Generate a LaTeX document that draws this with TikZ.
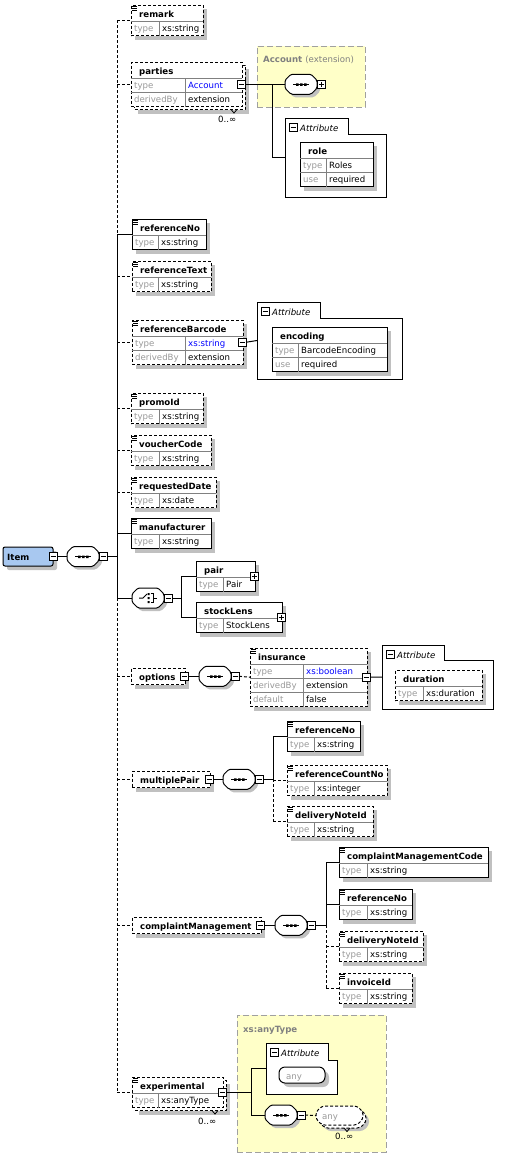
\documentclass[tikz,border=0pt]{standalone}
\usepackage{fontspec}
\setmainfont{DejaVu Sans}
\definecolor{shd}{HTML}{C0C0C0}
\definecolor{lab}{HTML}{999999}
\definecolor{valblue}{HTML}{0000FF}
\definecolor{yel}{HTML}{FFFFC8}
\definecolor{ybord}{HTML}{A0A0A0}
\definecolor{itemblue}{HTML}{A8C8F0}
\definecolor{divc}{HTML}{808080}
\newcommand\fs{\fontsize{8.6}{10}\selectfont}
\newif\ifmulti
\tikzset{
 dsh/.style={dash pattern=on 3pt off 2pt},
 ln/.style={line width=1pt},
 elnode/.style={draw, fill=white, inner sep=0, outer sep=0, line width=1pt},
 nm/.style={font=\fs\bfseries, inner sep=0, anchor=base west},
 lb/.style={font=\fs, text=lab, inner sep=0, anchor=base west},
 vl/.style={font=\fs, inner sep=0, anchor=base west},
 it/.style={font=\fs\itshape, inner sep=0, anchor=base west},
 occ/.style={font=\fs, inner sep=0, anchor=base west},
 signnode/.style={draw, fill=white, minimum size=8pt, inner sep=0, outer sep=0, line width=0.8pt},
 divl/.style={draw=divc, line width=0.8pt},
 yelbox/.style={draw=ybord, fill=yel, line width=1pt, dash pattern=on 6pt off 3pt, inner sep=0, outer sep=0, anchor=north west},
}
\newcommand\signbox[4]{%
 \node[signnode] (#1) at (#2,#3) {};
 \draw[line width=0.9pt] ([xshift=-2.5pt]#1.center) -- ([xshift=2.5pt]#1.center);
 \ifnum#4=1 \draw[line width=0.9pt] ([yshift=-2.5pt]#1.center) -- ([yshift=2.5pt]#1.center);\fi
}
\newcommand\compo[5]{%
 \begin{scope}[shift={(#2,#3)}]
  \fill[shd, rounded corners=1.5pt] (9,3) -- (29,3) -- (35,9) -- (35,17) -- (29,23) -- (9,23) -- (3,17) -- (3,9) -- cycle;
  \draw[ln, fill=white, rounded corners=1.5pt] (6,0) -- (26,0) -- (32,6) -- (32,14) -- (26,20) -- (6,20) -- (0,14) -- (0,6) -- cycle;
  \node[inner sep=0, outer sep=0, minimum width=32pt, minimum height=20pt] (#1) at (16,10) {};
  \ifnum#4=0
   \draw[ln] (8,10) -- (24,10);
   \fill (11,9) rectangle (13.5,11.5) (15,9) rectangle (17.5,11.5) (19,9) rectangle (21.5,11.5);
  \else
   \draw[ln] (7,10) -- (11,10) -- (15,6);
   \fill (15.5,5) rectangle (17.5,7) (15.5,9) rectangle (17.5,11) (15.5,13) rectangle (17.5,15);
   \draw[line width=0.9pt] (18.5,5.5) -- (21,5.5) -- (21,14.5) -- (18.5,14.5) (21,10) -- (25,10);
  \fi
 \end{scope}
 \signbox{#1-m}{#2+36}{#3+10}{#5}%
}
\newcommand\attrbox[7]{%
 \draw[ln, fill=white] (#2,#3) -- (#4,#3) -- (#4,#5) -- (#6,#5) -- (#6,#7) -- (#2,#7) -- cycle;
 \coordinate (#1) at (#2,{(#3+#7)/2});
 \signbox{#1-m}{#2+8}{#3+9}{0}%
 \node[it] (#1-t) at (#2+15,#3+13) {Attribute};
}
\newcommand\elbox[9]{%
 \pgfmathsetmacro\elh{16.5+14*#6}%
 \pgfmathsetmacro\elw{#4-#2}%
 \ifmulti
  \fill[shd] (#2+7,#3+7) rectangle (#4+7,#3+7+\elh);
  \draw[ln,dsh,fill=white] (#2+3,#3+3) rectangle (#4+3,#3+3+\elh);
  \draw[line width=0.8pt] (#4-11,#3+3+\elh) -- (#4-8,#3+6.5+\elh) -- (#4-5,#3+3+\elh);
 \else
  \fill[shd] (#2+4,#3+4) rectangle (#4+4,#3+4+\elh);
 \fi
 \node[elnode,#9,minimum width=\elw pt,minimum height=\elh pt,anchor=north west] (#1) at (#2,#3) {};
 \node[nm] (#1-n) at (#2+8,#3+12.5) {#7};
 \ifnum#6>0
  \foreach[count=\i] \k/\v in {#8}{%
   \pgfmathsetmacro\ry{#3+16.5+14*(\i-1)}%
   \draw[divl] (#2,\ry) -- (#4,\ry);
   \node[lb] (#1-k\i) at (#2+3,\ry+10) {\k};
   \node[vl] (#1-v\i) at (#5+3,\ry+10) {\v};
  }%
  \draw[divl] (#5,#3+16.5) -- (#5,#3+\elh);
 \fi
}
\newcommand\elicon[2]{\draw[line width=0.7pt] (#1+1,#2+1.5) -- +(5,0) (#1+1,#2+3.5) -- +(5,0) (#1+1,#2+5.5) -- +(5,0);}
\newcommand\bl[1]{\textcolor{valblue}{#1}}
\begin{document}
\begin{tikzpicture}[x=1pt,y=-1pt]
\useasboundingbox (0,0) rectangle (506,1168);
\fill[white] (0,0) rectangle (506,1168);
% yellow backgrounds
\node[yelbox, minimum width=108pt, minimum height=61pt] (accbox) at (257,46) {};
\node[font=\fs\bfseries, text=divc, inner sep=0, anchor=base west] (acclab) at (263,62) {Account \textmd{(extension)}};
\node[yelbox, minimum width=149pt, minimum height=137pt] (anybox) at (237,1015) {};
\node[font=\fs\bfseries, text=divc, inner sep=0, anchor=base west] (anylab) at (243,1032) {xs:anyType};
% root
\fill[shd, rounded corners=2pt] (7,551) rectangle (57,570);
\node[draw, fill=itemblue, rounded corners=2pt, line width=1pt, minimum width=50pt, minimum height=19pt, inner sep=0, outer sep=0, anchor=north west] (item) at (3,547) {};
\node[nm] (item-n) at (7,560) {Item};
\signbox{item-m}{53}{556.5}{0}
\compo{seq0}{67}{546.5}{0}{0}
% children
\elbox{remark}{131}{5}{203}{159}{1}{remark}{type/xs:string}{dsh}\elicon{131}{5}
\multitrue
\elbox{parties}{131}{62}{242}{185}{2}{parties}{type/\bl{Account},derivedBy/extension}{dsh}
\multifalse
\signbox{parties-m}{241}{84.25}{0}
\node[occ] (parties-o) at (218,122) {0..∞};
\compo{accseq}{285}{74.25}{0}{1}
\attrbox{attr1}{285}{118}{348}{134}{386}{197}
\elbox{role}{300}{142}{373}{326}{2}{role}{type/Roles,use/required}{}
\elbox{referenceNo}{132}{219}{206}{158}{1}{referenceNo}{type/xs:string}{}\elicon{132}{219}
\elbox{referenceText}{132}{261}{211}{158}{1}{referenceText}{type/xs:string}{dsh}\elicon{132}{261}
\elbox{referenceBarcode}{132}{320}{243}{185}{2}{referenceBarcode}{type/\bl{xs:string},derivedBy/extension}{dsh}\elicon{132}{320}
\signbox{referenceBarcode-m}{242}{342.25}{0}
\attrbox{attr2}{257}{302}{320}{318}{402}{379}
\elbox{encoding}{272}{327}{387}{298}{2}{encoding}{type/BarcodeEncoding,use/required}{}
\elbox{promoId}{131}{393}{203}{159}{1}{promoId}{type/xs:string}{dsh}\elicon{131}{393}
\elbox{voucherCode}{131}{435}{211}{159}{1}{voucherCode}{type/xs:string}{dsh}\elicon{131}{435}
\elbox{requestedDate}{131}{477}{216}{159}{1}{requestedDate}{type/xs:date}{dsh}\elicon{131}{477}
\elbox{manufacturer}{131}{518}{211}{159}{1}{manufacturer}{type/xs:string}{}\elicon{131}{518}
\compo{choice}{132}{588}{1}{0}
\elbox{pair}{196}{561}{255}{223}{1}{pair}{type/Pair}{}
\signbox{pair-p}{254}{576.25}{1}
\elbox{stockLens}{196}{602}{282}{223}{1}{stockLens}{type/StockLens}{}
\signbox{stockLens-p}{281}{617.25}{1}
\elbox{options}{131}{668}{185}{0}{0}{options}{}{dsh}
\signbox{options-m}{184}{676.25}{0}
\compo{optseq}{199}{666.25}{0}{0}
\elbox{insurance}{250}{648}{367}{303}{3}{insurance}{type/\bl{xs:boolean},derivedBy/extension,default/false}{dsh}\elicon{250}{648}
\signbox{insurance-m}{366}{677.25}{0}
\attrbox{attr3}{382}{645}{444}{660}{493}{709}
\elbox{duration}{395}{670}{482}{423}{1}{duration}{type/xs:duration}{dsh}
\elbox{multiplePair}{132}{771}{210}{0}{0}{multiplePair}{}{dsh}
\signbox{multiplePair-m}{209}{779.25}{0}
\compo{mpseq}{223}{769.25}{0}{0}
\elbox{refNoB}{287}{721}{360}{314}{1}{referenceNo}{type/xs:string}{}\elicon{287}{721}
\elbox{refCountNo}{287}{765}{387}{314}{1}{referenceCountNo}{type/xs:integer}{dsh}\elicon{287}{765}
\elbox{delNoteA}{287}{806}{373}{314}{1}{deliveryNoteId}{type/xs:string}{dsh}\elicon{287}{806}
\elbox{complaintManagement}{132}{917}{261}{0}{0}{complaintManagement}{}{dsh}
\signbox{complaintManagement-m}{260}{925.25}{0}
\compo{cmseq}{275}{915.25}{0}{0}
\elbox{cmCode}{339}{847}{488}{367}{1}{complaintManagementCode}{type/xs:string}{}\elicon{339}{847}
\elbox{refNoC}{339}{889}{412}{367}{1}{referenceNo}{type/xs:string}{}\elicon{339}{889}
\elbox{delNoteB}{339}{931}{423}{367}{1}{deliveryNoteId}{type/xs:string}{dsh}\elicon{339}{931}
\elbox{invoiceId}{339}{973}{412}{367}{1}{invoiceId}{type/xs:string}{dsh}\elicon{339}{973}
\multitrue
\elbox{experimental}{132}{1077}{223}{158}{1}{experimental}{type/xs:anyType}{dsh}\elicon{132}{1077}
\multifalse
\signbox{experimental-m}{222}{1092.25}{0}
\node[occ] (experimental-o) at (198,1124) {0..∞};
\attrbox{attr4}{266}{1043}{328}{1060}{337}{1094}
\fill[shd, rounded corners=6pt] (283,1071) rectangle (329,1087);
\node[draw, fill=white, rounded corners=6pt, line width=1pt, minimum width=46pt, minimum height=16pt, inner sep=0, outer sep=0, anchor=north west] (anyattr) at (279,1067) {};
\node[font=\fs, text=lab, inner sep=0, anchor=base west] (anyattr-t) at (286,1079) {any};
\compo{exseq}{265}{1105}{0}{0}
\begin{scope}[shift={(316,1106)}]
 \fill[shd, rounded corners=3pt] (12,6) -- (47,6) -- (53,12) -- (53,19) -- (47,25) -- (12,25) -- (6,19) -- (6,12) -- cycle;
 \draw[ln, dsh, fill=white, rounded corners=3pt] (9,3) -- (44,3) -- (50,9) -- (50,16) -- (44,22) -- (9,22) -- (3,16) -- (3,9) -- cycle;
 \draw[line width=0.8pt] (28,22) -- (31,25.5) -- (34,22);
 \draw[ln, dsh, fill=white, rounded corners=3pt] (6,0) -- (41,0) -- (47,6) -- (47,13) -- (41,19) -- (6,19) -- (0,13) -- (0,6) -- cycle;
 \node[inner sep=0, outer sep=0, minimum width=47pt, minimum height=19pt] (anyel) at (23.5,9.5) {};
 \node[font=\fs, text=lab, inner sep=0, anchor=base west] (anyel-t) at (6,13.5) {any};
\end{scope}
\node[occ] (anyel-o) at (335,1139) {0..∞};
% connectors
\coordinate (trunk) at (117,556.5);
\draw[ln] (item-m.east) -- (seq0.west);
\draw[ln] (seq0-m.east) -- (seq0-m.east -| trunk);
\draw[ln,dsh] (remark.west -| trunk) -- (referenceNo.west -| trunk);
\draw[ln] (referenceNo.west -| trunk) -- (choice.west -| trunk);
\draw[ln,dsh] (choice.west -| trunk) -- (experimental.west -| trunk);
\foreach \n in {remark,parties,referenceText,referenceBarcode,promoId,voucherCode,requestedDate,options,multiplePair,complaintManagement,experimental}
  \draw[ln,dsh] (\n.west -| trunk) -- (\n.west);
\foreach \n in {referenceNo,manufacturer,choice}
  \draw[ln] (\n.west -| trunk) -- (\n.west);
% parties
\coordinate (pbx) at (272,0);
\draw[ln] (parties-m.east) -- (accseq.west);
\draw[ln] (parties-m.east -| pbx) |- (attr1);
\draw[ln] (referenceBarcode-m.east) -- (attr2);
% choice
\coordinate (cbx) at (181,0);
\draw[ln] (choice-m.east) -- (choice-m.east -| cbx);
\draw[ln] (pair.west -| cbx) -- (stockLens.west -| cbx);
\draw[ln] (pair.west -| cbx) -- (pair.west);
\draw[ln] (stockLens.west -| cbx) -- (stockLens.west);
% options
\draw[ln] (options-m.east) -- (optseq.west);
\draw[ln,dsh] (optseq-m.east) -- (insurance.west);
\draw[ln] (insurance-m.east) -- (attr3);
% multiplePair
\coordinate (mbx) at (273,0);
\draw[ln] (multiplePair-m.east) -- (mpseq.west);
\draw[ln] (mpseq-m.east) -- (mpseq-m.east -| mbx);
\draw[ln] (refNoB.west -| mbx) -- (mpseq-m.east -| mbx);
\draw[ln,dsh] (mpseq-m.east -| mbx) -- (delNoteA.west -| mbx);
\draw[ln] (refNoB.west -| mbx) -- (refNoB.west);
\draw[ln,dsh] (refCountNo.west -| mbx) -- (refCountNo.west);
\draw[ln,dsh] (delNoteA.west -| mbx) -- (delNoteA.west);
% complaintManagement
\coordinate (kbx) at (326,0);
\draw[ln] (complaintManagement-m.east) -- (cmseq.west);
\draw[ln] (cmseq-m.east) -- (cmseq-m.east -| kbx);
\draw[ln] (cmCode.west -| kbx) -- (cmseq-m.east -| kbx);
\draw[ln,dsh] (cmseq-m.east -| kbx) -- (invoiceId.west -| kbx);
\draw[ln] (cmCode.west -| kbx) -- (cmCode.west);
\draw[ln] (refNoC.west -| kbx) -- (refNoC.west);
\draw[ln,dsh] (delNoteB.west -| kbx) -- (delNoteB.west);
\draw[ln,dsh] (invoiceId.west -| kbx) -- (invoiceId.west);
% experimental
\coordinate (ebx) at (251,0);
\draw[ln] (experimental-m.east) -- (experimental-m.east -| ebx);
\draw[ln] (attr4 -| ebx) -- (exseq.west -| ebx);
\draw[ln] (attr4 -| ebx) -- (attr4);
\draw[ln] (exseq.west -| ebx) -- (exseq.west);
\draw[ln,dsh] (exseq-m.east) -- (anyel.west);
\end{tikzpicture}
\end{document}
